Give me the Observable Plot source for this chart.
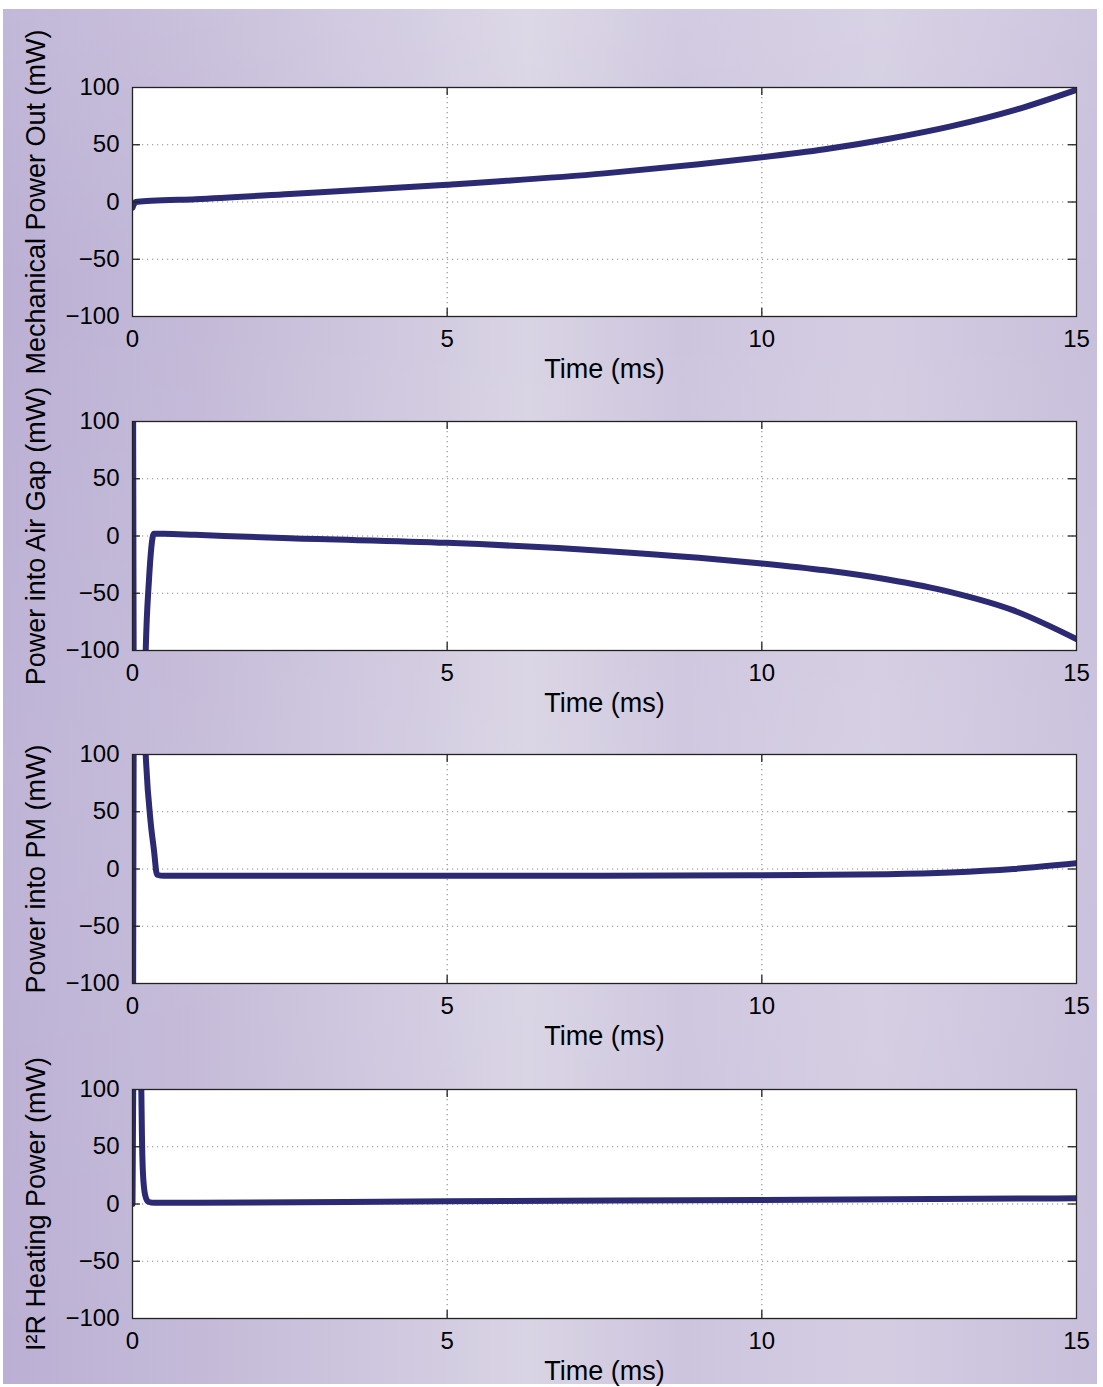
<!DOCTYPE html>
<html>
<head>
<meta charset="utf-8">
<script src="https://cdn.jsdelivr.net/npm/d3@7"></script>
<script src="https://cdn.jsdelivr.net/npm/@observablehq/plot@0.6"></script>
<style>
  body { margin: 0; background: #ffffff; width: 1103px; height: 1387px; position: relative; overflow: hidden;
         font-family: "Liberation Sans", Arial, Helvetica, sans-serif; }
  #bg { position: absolute; left: 3px; top: 9px; width: 1094px; height: 1375px;
        background:
          linear-gradient(180deg, rgba(255,255,255,0.10) 0%, rgba(255,255,255,0) 20%, rgba(255,255,255,0.06) 55%, rgba(255,255,255,0) 100%),
          linear-gradient(90deg, #bbb0d4 0%, #c4bad8 18%, #d1cae0 38%, #d9d4e4 48%, #cdc5de 62%, #d4cde2 80%, #c8bfdb 100%); }
  .panel { position: absolute; left: 0; }
</style>
</head>
<body>
<div id="bg"></div>
<div id="charts"></div>
<script>
// ---- axis / tick definitions ----
const xTicks = [0, 5, 10, 15];
const yTicks = [-100, -50, 0, 50, 100];
const xGridValues = [5, 10];
const yGridValues = [-50, 0, 50];
const xLabel = "Time (ms)";

// ---- panel 1: Mechanical Power Out (mW) ----
const mechTime  = [0, 0.05, 0.3, 1, 2.5, 5, 7.5, 9, 10, 11, 12, 13, 14, 15];
const mechPower = [-5, 0, 1, 2.5, 7, 15, 25, 33, 39, 46, 55, 66, 80, 98];

// ---- panel 2: Power into Air Gap (mW) ----
const gapTime  = [0, 0.04, 0.08, 0.18, 0.21, 0.26, 0.34, 0.5, 1, 2.5, 5, 7.5, 9, 10, 11, 12, 13, 14, 15];
const gapPower = [400, -400, -300, -180, -100, -40, 2, 2, 1, -2, -6, -13, -19, -24, -30, -38, -49, -65, -90];

// ---- panel 3: Power into PM (mW) ----
const pmTime  = [0, 0.04, 0.08, 0.17, 0.21, 0.29, 0.34, 0.39, 0.5, 1, 2.5, 5, 7.5, 10, 12, 13, 14, 15];
const pmPower = [-400, 400, 300, 160, 100, 40, 17, -5, -6, -6, -6, -6, -6, -5.5, -4.5, -3, 0, 5];

// ---- panel 4: I²R Heating Power (mW) ----
const heatTime  = [0, 0.05, 0.1, 0.14, 0.15, 0.165, 0.2, 0.25, 0.35, 1, 5, 10, 15];
const heatPower = [0, 300, 170, 100, 60, 28, 8, 2, 1, 1, 2.5, 3.5, 5];

const panels = [
  {label: "Mechanical Power Out (mW)", time: mechTime, power: mechPower, frameTop: 87},
  {label: "Power into Air Gap (mW)", time: gapTime, power: gapPower, frameTop: 421},
  {label: "Power into PM (mW)", time: pmTime, power: pmPower, frameTop: 754},
  {label: "I\u00b2R Heating Power (mW)", time: heatTime, power: heatPower, frameTop: 1089}
];

const W = 1103, ML = 132, MR = 27, MT = 30, MB = 74, PH = 229;
const H = MT + PH + MB;
const FW = W - ML - MR;
const lineColor = "#2c2a72";
const axisColor = "#222";
const tickLen = 8;

const container = document.getElementById("charts");
for (const p of panels) {
  const chart = Plot.plot({
    width: W, height: H,
    marginLeft: ML, marginRight: MR, marginTop: MT, marginBottom: MB,
    x: {domain: [0, 15]},
    y: {domain: [-100, 100]},
    style: {background: "transparent", overflow: "visible", fontSize: "24px",
            fontFamily: "'Liberation Sans', Arial, Helvetica, sans-serif", color: "black"},
    marks: [
      Plot.frame({fill: "white", stroke: null}),
      Plot.ruleX(xGridValues, {stroke: "#8a8a8a", strokeWidth: 1.1, strokeDasharray: "1.2,3.8"}),
      Plot.ruleY(yGridValues, {stroke: "#8a8a8a", strokeWidth: 1.1, strokeDasharray: "1.2,3.8"}),
      Plot.line(p.time, {x: p.time, y: p.power, stroke: lineColor, strokeWidth: 6, curve: "monotone-x", clip: true}),
      Plot.frame({stroke: axisColor, strokeWidth: 1.3}),
      Plot.ruleX(xGridValues, {stroke: axisColor, strokeWidth: 1.3, insetTop: PH - tickLen}),
      Plot.ruleX(xGridValues, {stroke: axisColor, strokeWidth: 1.3, insetBottom: PH - tickLen}),
      Plot.ruleY(yGridValues, {stroke: axisColor, strokeWidth: 1.3, insetRight: FW - tickLen}),
      Plot.ruleY(yGridValues, {stroke: axisColor, strokeWidth: 1.3, insetLeft: FW - tickLen}),
      Plot.axisX({ticks: xTicks, tickSize: 0, tickPadding: 13, label: null, tickFormat: d3.format("d")}),
      Plot.axisY({ticks: yTicks, tickSize: 0, tickPadding: 13, label: null, tickFormat: d3.format("d")}),
      Plot.text([xLabel], {frameAnchor: "bottom", dy: 61, fontSize: 27, fill: "black"}),
      Plot.text([p.label], {frameAnchor: "left", textAnchor: "middle", rotate: -90, dx: -96, fontSize: 27, fill: "black"})
    ]
  });
  const wrap = document.createElement("div");
  wrap.className = "panel";
  wrap.style.top = (p.frameTop - MT) + "px";
  wrap.appendChild(chart);
  container.appendChild(wrap);
}
</script>
</body>
</html>
